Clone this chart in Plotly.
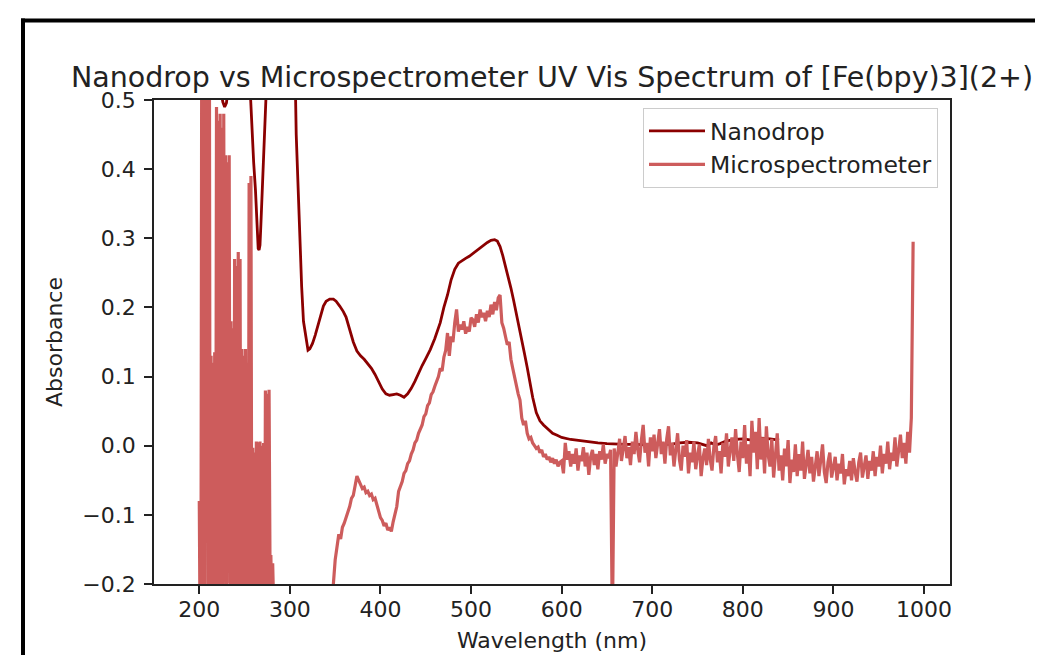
import plotly.graph_objects as go

# ---------------- data ----------------
nanodrop_wl = [190, 195, 200, 205, 210, 215, 220, 224, 226, 228, 230, 232, 236, 240, 244, 248,
               252, 256, 258, 260, 262, 264, 265, 266, 267, 268, 270, 272, 274, 278, 282, 286,
               290, 294, 298, 302, 305, 307, 309, 311, 313, 315, 318, 320, 322, 325, 328, 331,
               334, 337, 340, 344, 348, 351, 355, 359, 362, 366, 370, 374, 378, 382, 386, 390,
               394, 398, 402, 406, 410, 414, 418, 422, 426, 430, 434, 438, 442, 446, 450, 455,
               460, 466, 470, 474, 478, 482, 486, 490, 494, 498, 502, 506, 510, 514, 518, 522,
               526, 529, 532, 535, 539, 541, 544, 547, 550, 553, 556, 559, 562, 565, 568, 572,
               576, 580, 584, 590, 595, 600, 610, 620, 630, 640, 650, 660, 670, 680, 690, 700,
               710, 720, 730, 740, 750, 755, 760, 765, 770, 775, 780, 790, 800, 810, 820, 830, 840]
nanodrop_abs = [1.60, 1.30, 1.05, 0.85, 0.70, 0.60, 0.54, 0.51, 0.497, 0.490, 0.496, 0.52, 0.60, 0.70, 0.76, 0.74,
                0.66, 0.52, 0.46, 0.41, 0.37, 0.31, 0.285, 0.283, 0.29, 0.32, 0.38, 0.44, 0.50, 0.65, 0.85, 1.05,
                1.20, 1.28, 1.30, 1.10, 0.60, 0.45, 0.37, 0.30, 0.23, 0.18, 0.150, 0.138, 0.140, 0.148, 0.160, 0.175,
                0.190, 0.202, 0.209, 0.212, 0.212, 0.209, 0.202, 0.194, 0.186, 0.168, 0.150, 0.137, 0.130, 0.125, 0.119, 0.112,
                0.103, 0.092, 0.082, 0.075, 0.073, 0.074, 0.075, 0.073, 0.070, 0.075, 0.083, 0.093, 0.105, 0.116, 0.126, 0.139,
                0.155, 0.178, 0.200, 0.218, 0.240, 0.255, 0.264, 0.268, 0.271, 0.274, 0.278, 0.282, 0.287, 0.291, 0.294, 0.297,
                0.298, 0.296, 0.288, 0.275, 0.255, 0.245, 0.228, 0.210, 0.192, 0.172, 0.152, 0.133, 0.113, 0.090, 0.070, 0.048,
                0.036, 0.030, 0.025, 0.018, 0.015, 0.012, 0.009, 0.007, 0.005, 0.004, 0.003, 0.002, 0.002, 0.002, 0.001, 0.001,
                0.002, 0.002, 0.004, 0.005, 0.004, 0.002, 0.000, 0.004, 0.001, 0.003, 0.006, 0.009, 0.010, 0.008, 0.011, 0.010, 0.008]

# Microspectrometer, UV part (1 nm grid, 200-283 nm)
micro_wl_uv = list(range(200, 284))
micro_abs_uv = [-0.08, -0.30, -0.08, 0.90, -0.40, 0.85, -0.35, 0.70, -0.11, 0.80,
                -0.45, 0.75, -0.30, 0.13, -0.40, 0.12, -0.28, 0.135, -0.35, 0.49,
                -0.25, 0.47, -0.30, 0.48, -0.22, 0.46, -0.35, 0.48, -0.18, 0.42,
                -0.40, 0.41, -0.15, 0.42, -0.30, 0.18, -0.22, 0.17, -0.35, 0.27,
                -0.25, 0.26, -0.40, 0.28, -0.20, 0.27, -0.33, 0.14, -0.28, 0.13,
                -0.45, 0.14, -0.21, 0.12, -0.35, 0.38, -0.30, 0.39, -0.25, -0.003,
                -0.35, -0.01, -0.22, 0.006, -0.40, 0.005, -0.28, 0.006, -0.35, 0.0,
                -0.19, 0.004, -0.30, 0.08, -0.25, 0.075, -0.40, 0.081, -0.16, -0.158,
                -0.24, -0.17, -0.30, -0.50]

# Microspectrometer, off-scale low region
micro_wl_gap = [286, 292, 300, 310, 320, 330, 338, 344]
micro_abs_gap = [-0.60, -0.80, -0.90, -0.85, -0.70, -0.55, -0.40, -0.28]

# Microspectrometer, visible part (2 nm grid, 346-600 nm)
micro_wl_vis = list(range(346, 601, 2))
micro_abs_vis = [-0.23, -0.20, -0.165, -0.145, -0.128, -0.135, -0.118, -0.112, -0.105, -0.095,
                 -0.088, -0.076, -0.072, -0.058, -0.044, -0.050, -0.057, -0.062, -0.060, -0.068,
                 -0.066, -0.072, -0.070, -0.078, -0.076, -0.085, -0.095, -0.104, -0.108, -0.116,
                 -0.112, -0.122, -0.118, -0.124, -0.110, -0.100, -0.088, -0.066, -0.058, -0.052,
                 -0.040, -0.036, -0.026, -0.022, -0.012, -0.006, 0.004, 0.008, 0.018, 0.024,
                 0.030, 0.042, 0.046, 0.058, 0.062, 0.074, 0.078, 0.086, 0.092, 0.100,
                 0.112, 0.108, 0.128, 0.138, 0.163, 0.130, 0.158, 0.150, 0.178, 0.197,
                 0.165, 0.175, 0.168, 0.180, 0.162, 0.172, 0.165, 0.185, 0.182, 0.172,
                 0.190, 0.178, 0.197, 0.186, 0.192, 0.180, 0.195, 0.186, 0.204, 0.190,
                 0.208, 0.196, 0.214, 0.218, 0.178, 0.170, 0.158, 0.146, 0.150, 0.125,
                 0.112, 0.098, 0.086, 0.075, 0.066, 0.040, 0.030, 0.036, 0.018, 0.010,
                 0.012, 0.004, 0.000, -0.004, -0.002, -0.010, -0.006, -0.016, -0.012, -0.020,
                 -0.016, -0.024, -0.018, -0.026, -0.020, -0.030, -0.024, -0.022]

# Microspectrometer, red / NIR part (2 nm grid, 602-988 nm)
micro_wl_nir = list(range(602, 989, 2))
micro_abs_nir = [-0.040, 0.004, -0.020, -0.008, -0.030, -0.012, -0.026, -0.004, -0.036, -0.014,
                 -0.022, -0.002, -0.030, -0.010, -0.042, -0.016, -0.006, -0.028, -0.012, -0.034,
                 -0.008, -0.020, 0.002, -0.026, -0.012, -0.018, -0.006, -0.260, -0.004, -0.030,
                 -0.010, 0.010, -0.022, -0.004, 0.014, -0.018, -0.002, -0.028, 0.006, -0.012,
                 0.020, -0.006, -0.024, 0.008, 0.030, -0.010, 0.004, -0.030, 0.012, -0.008,
                 0.016, -0.018, 0.002, 0.024, -0.012, 0.006, -0.026, 0.010, 0.028, -0.014,
                 0.004, -0.030, -0.006, 0.018, -0.020, -0.036, 0.000, -0.016, 0.008, -0.040,
                 -0.010, -0.024, 0.006, -0.034, -0.014, 0.002, -0.044, -0.018, -0.004, -0.028,
                 0.010, -0.020, -0.036, -0.002, 0.014, -0.024, -0.008, -0.040, 0.004, -0.016,
                 0.018, -0.030, -0.006, 0.012, -0.022, 0.024, -0.012, -0.038, 0.006, -0.018,
                 0.030, -0.026, 0.002, -0.044, 0.036, -0.010, 0.020, -0.034, 0.040, -0.020,
                 0.012, -0.040, 0.028, -0.014, -0.030, 0.010, -0.046, -0.008, 0.018, -0.036,
                 -0.014, -0.050, -0.004, -0.030, 0.008, -0.054, -0.020, -0.038, 0.002, -0.044,
                 -0.012, -0.036, 0.006, -0.048, -0.022, -0.006, -0.040, -0.016, -0.052, -0.026,
                 -0.008, -0.044, -0.020, 0.002, -0.038, -0.054, -0.024, -0.010, -0.046, -0.030,
                 -0.016, -0.050, -0.026, -0.040, -0.012, -0.056, -0.034, -0.044, -0.022, -0.050,
                 -0.018, -0.038, -0.052, -0.024, -0.010, -0.046, -0.030, -0.014, -0.048, -0.022,
                 -0.036, -0.008, -0.044, -0.016, -0.030, 0.000, -0.040, -0.012, -0.026, 0.006,
                 -0.034, -0.010, -0.022, 0.012, -0.030, -0.004, 0.016, -0.018, 0.004, -0.026,
                 0.020, -0.010, 0.040, 0.295]

x_ticks = [200, 300, 400, 500, 600, 700, 800, 900, 1000]
y_ticks = [-0.2, -0.1, 0.0, 0.1, 0.2, 0.3, 0.4, 0.5]

title_text = "Nanodrop vs Microspectrometer UV Vis Spectrum of [Fe(bpy)3](2+)"

# --------------------------------------
assert len(nanodrop_wl) == len(nanodrop_abs)
assert len(micro_wl_uv) == len(micro_abs_uv)
assert len(micro_wl_vis) == len(micro_abs_vis)
assert len(micro_wl_nir) == len(micro_abs_nir)

micro_wl = micro_wl_uv + micro_wl_gap + micro_wl_vis + micro_wl_nir
micro_abs = micro_abs_uv + micro_abs_gap + micro_abs_vis + micro_abs_nir

# page body has an 8px default margin: lay the figure out in screen pixels, then offset
OFF = 8
W, H = 1043 - OFF, 655 - OFF
L, R, T, B = 154 - OFF, 950 - OFF, 100 - OFF, 584 - OFF

FONT = "DejaVu Sans"
TXT = "#222222"
fig = go.Figure()
fig.add_trace(go.Scatter(x=nanodrop_wl, y=nanodrop_abs, mode="lines", name="Nanodrop",
                         line=dict(color="#8b0000", width=2.8)))
fig.add_trace(go.Scatter(x=micro_wl, y=micro_abs, mode="lines", name="Microspectrometer",
                         line=dict(color="#cd5c5c", width=3.2)))

axis_common = dict(showline=True, mirror=True, linecolor=TXT, linewidth=1.8,
                   ticks="outside", ticklen=8, tickwidth=1.8, tickcolor=TXT,
                   showgrid=False, zeroline=False,
                   tickfont=dict(family=FONT, size=22, color=TXT))

fig.update_xaxes(range=[150, 1028.7], tickvals=x_ticks,
                 title=dict(text="Wavelength (nm)", font=dict(family=FONT, size=22, color=TXT), standoff=11),
                 ticklabelstandoff=-3, **axis_common)
fig.update_yaxes(range=[-0.2, 0.5], tickvals=y_ticks, tickformat=".1f",
                 title=dict(text="Absorbance", font=dict(family=FONT, size=22, color=TXT), standoff=14),
                 ticklabelstandoff=4, **axis_common)


def sx(p):
    """screen pixel x -> paper coordinate"""
    return (p - OFF - L) / (R - L)


def sy(p):
    """screen pixel y -> paper coordinate"""
    return (B - (p - OFF)) / (B - T)


fig.update_layout(
    width=W, height=H,
    margin=dict(l=L, r=W - R, t=T, b=H - B, autoexpand=False),
    paper_bgcolor="white", plot_bgcolor="white",
    font=dict(family=FONT, color=TXT),
    title=dict(text=title_text, font=dict(family=FONT, size=28.5, color=TXT),
               x=0.5, xref="paper", xanchor="center",
               y=1 - (77 - OFF) / H, yref="container", yanchor="middle"),
    legend=dict(x=sx(938), y=sy(108), xanchor="right", yanchor="top",
                bgcolor="rgba(255,255,255,0.8)", bordercolor="#cccccc", borderwidth=1,
                itemwidth=56,
                font=dict(family=FONT, size=23.5, color=TXT), tracegroupgap=0),
    showlegend=True,
    shapes=[
        dict(type="line", xref="paper", yref="paper", x0=sx(21), x1=sx(1100),
             y0=sy(20.5), y1=sy(20.5), line=dict(color="black", width=4), layer="above"),
        dict(type="line", xref="paper", yref="paper", x0=sx(23), x1=sx(23),
             y0=sy(18.5), y1=sy(700), line=dict(color="black", width=4), layer="above"),
    ],
)

fig.write_html("out.html")
